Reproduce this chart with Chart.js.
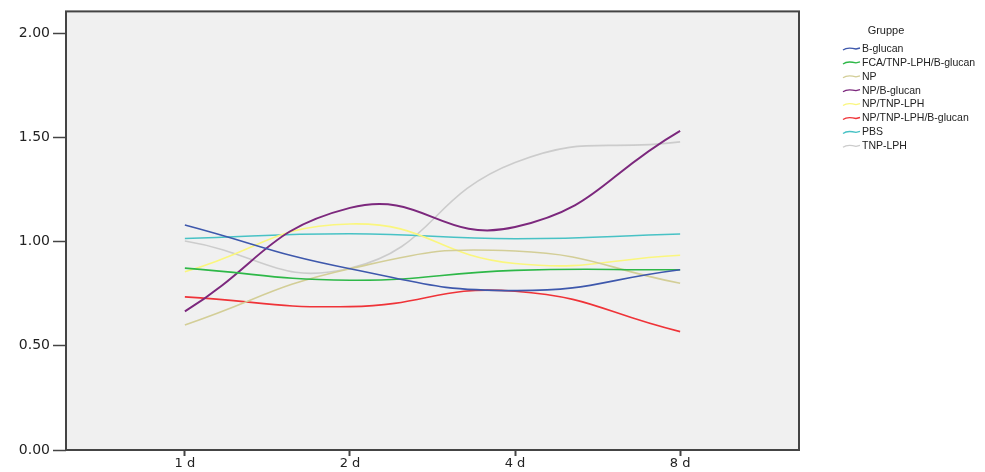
<!DOCTYPE html>
<html>
<head>
<meta charset="utf-8">
<script src="https://cdn.jsdelivr.net/npm/chart.js@4"></script>
<style>
  html, body { margin: 0; padding: 0; background: #ffffff; }
  #wrap { position: relative; width: 985px; height: 472px; }
  canvas { display: block; }
</style>
</head>
<body>
<div id="wrap"><canvas id="c" width="985" height="472"></canvas></div>
<script>
const categories = ['1 d', '2 d', '4 d', '8 d'];
const yTickValues = [0, 0.5, 1.0, 1.5, 2.0];
const legendTitle = 'Gruppe';

const seriesNames = ['B-glucan', 'FCA/TNP-LPH/B-glucan', 'NP', 'NP/B-glucan', 'NP/TNP-LPH', 'NP/TNP-LPH/B-glucan', 'PBS', 'TNP-LPH'];
const bGlucan      = [1.08, 0.87, 0.765, 0.865];
const fcaTnpBg     = [0.873, 0.815, 0.862, 0.865];
const np           = [0.60, 0.87, 0.955, 0.80];
const npBg         = [0.665, 1.162, 1.07, 1.532];
const npTnp        = [0.855, 1.085, 0.895, 0.935];
const npTnpBg      = [0.735, 0.688, 0.762, 0.568];
const pbs          = [1.015, 1.038, 1.014, 1.037];
const tnpLph       = [1.003, 0.872, 1.38, 1.479];
const seriesValues = [bGlucan, fcaTnpBg, np, npBg, npTnp, npTnpBg, pbs, tnpLph];
const seriesColors = ['#3E58AC', '#2EB848', '#D3CE97', '#7C287D', '#FAF67E', '#EF3338', '#48C2C5', '#CCCCCC'];

const datasets = seriesNames.map((name, s) => ({
  label: name,
  data: seriesValues[s].map((v, i) => ({ x: i + 1, y: v })),
  borderColor: seriesColors[s],
  backgroundColor: seriesColors[s],
  borderWidth: s === 3 ? 2 : 1.6,
  pointRadius: 0,
  tension: 0.48,
  fill: false
}));

const frame = {
  id: 'frame',
  beforeDatasetsDraw(chart) {
    const a = chart.chartArea, ctx = chart.ctx;
    ctx.save();
    ctx.fillStyle = '#F0F0F0';
    ctx.fillRect(a.left, a.top, a.right - a.left, a.bottom - a.top);
    ctx.restore();
  },
  afterDatasetsDraw(chart) {
    const a = chart.chartArea, ctx = chart.ctx;
    ctx.save();
    ctx.strokeStyle = '#444444';
    ctx.lineWidth = 2;
    ctx.strokeRect(a.left, a.top, a.right - a.left, a.bottom - a.top);
    ctx.restore();
  },
  afterDraw(chart) {
    const ctx = chart.ctx;
    ctx.save();
    ctx.fillStyle = '#222222';
    ctx.font = '11px "Liberation Sans", Arial, sans-serif';
    ctx.textAlign = 'center';
    ctx.textBaseline = 'middle';
    ctx.fillText(legendTitle, 886, 31);
    ctx.textAlign = 'left';
    ctx.font = '10.5px "Liberation Sans", Arial, sans-serif';
    chart.data.datasets.forEach((ds, i) => {
      const y = 49 + i * 13.9;
      ctx.strokeStyle = ds.borderColor;
      ctx.lineWidth = 1.3;
      ctx.beginPath();
      ctx.moveTo(843, y + 1);
      ctx.bezierCurveTo(847, y - 2, 852, y - 1, 856, y);
      ctx.lineTo(860, y - 1);
      ctx.stroke();
      ctx.fillStyle = '#222222';
      ctx.fillText(ds.label, 862, y);
    });
    ctx.restore();
  }
};

new Chart(document.getElementById('c'), {
  type: 'line',
  data: { datasets },
  plugins: [frame],
  options: {
    responsive: false,
    animation: false,
    layout: { padding: { left: 0, top: 8, right: 186, bottom: 0 } },
    plugins: { legend: { display: false }, tooltip: { enabled: false } },
    scales: {
      x: {
        type: 'linear',
        min: 0.28,
        max: 4.72,
        afterBuildTicks(scale) { scale.ticks = categories.map((c, i) => ({ value: i + 1 })); },
        afterFit(scale) { scale.height = 22; },
        ticks: {
          callback: (v) => categories[Math.round(v) - 1],
          color: '#222222',
          font: { family: '"DejaVu Sans", sans-serif', size: 13 },
          padding: 0,
          maxRotation: 0
        },
        grid: { drawOnChartArea: false, drawTicks: true, tickLength: 6, color: '#444444', tickWidth: 2 },
        border: { display: false }
      },
      y: {
        type: 'linear',
        min: 0,
        max: 2.105,
        afterBuildTicks(scale) { scale.ticks = yTickValues.map(v => ({ value: v })); },
        afterFit(scale) { scale.width = 66; },
        ticks: {
          callback: (v) => v.toFixed(2),
          color: '#222222',
          font: { family: '"DejaVu Sans", sans-serif', size: 14 },
          padding: 3
        },
        grid: { drawOnChartArea: false, drawTicks: true, tickLength: 13, color: '#444444', tickWidth: 1.5 },
        border: { display: false }
      }
    }
  }
});
</script>
</body>
</html>
